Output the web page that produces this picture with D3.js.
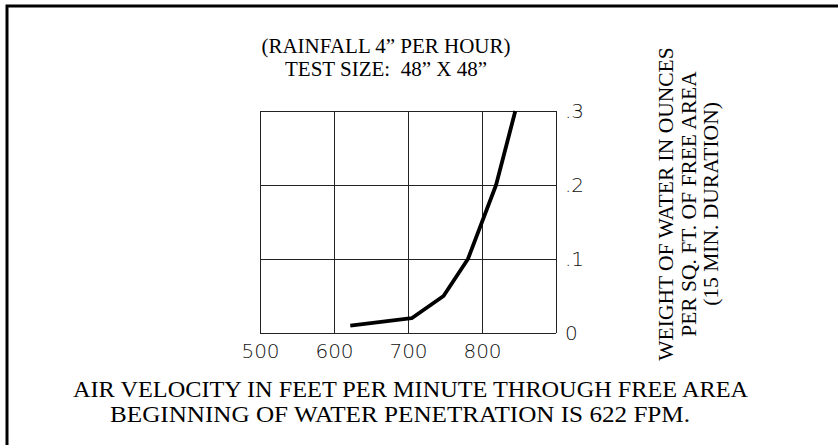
<!DOCTYPE html>
<html>
<head>
<meta charset="utf-8">
<script src="https://cdn.jsdelivr.net/npm/d3@7"></script>
<style>
  html, body { margin: 0; padding: 0; background: #fff; }
  svg { display: block; }
</style>
</head>
<body>
<svg id="chart" width="838" height="445"></svg>
<script>
// ---- data ----
const velocity = [622, 705, 748, 781, 819, 845];           // FPM
const weight   = [0.01, 0.02, 0.05, 0.10, 0.20, 0.30];     // oz per sq ft
const xTicks = [500, 600, 700, 800];
const xGrid  = [500, 600, 700, 800, 900];
const yTicks = [0, 0.1, 0.2, 0.3];
const yTickLabels = ["0", ".1", ".2", ".3"];
const titleLines = ["(RAINFALL 4\u201D PER HOUR)", "TEST SIZE:\u00A0\u00A048\u201D X 48\u201D"];
const yTitleLines = ["WEIGHT OF WATER IN OUNCES", "PER SQ. FT. OF FREE AREA", "(15 MIN. DURATION)"];
const xTitleLines = ["AIR VELOCITY IN FEET PER MINUTE THROUGH FREE AREA", "BEGINNING OF WATER PENETRATION IS 622 FPM."];

const svg = d3.select("#chart");
const plot = { left: 260, top: 111, width: 296, height: 222 };

// outer frame (only top and left edges visible)
svg.append("rect")
  .attr("x", 7).attr("y", 6).attr("width", 900).attr("height", 600)
  .attr("fill", "none").attr("stroke", "#000").attr("stroke-width", 3);

const x = d3.scaleLinear().domain([500, 900]).range([plot.left, plot.left + plot.width]);
const y = d3.scaleLinear().domain([0, 0.3]).range([plot.top + plot.height, plot.top]);

// grid
const g = svg.append("g");
g.selectAll("line.v").data(xGrid).join("line")
  .attr("x1", d => x(d)).attr("x2", d => x(d))
  .attr("y1", y(0)).attr("y2", y(0.3))
  .attr("stroke", "#222").attr("stroke-width", 1).attr("shape-rendering", "crispEdges");
g.selectAll("line.h").data(yTicks).join("line")
  .attr("x1", x(500)).attr("x2", x(900))
  .attr("y1", d => y(d)).attr("y2", d => y(d))
  .attr("stroke", "#222").attr("stroke-width", 1).attr("shape-rendering", "crispEdges");

// x tick labels via axis
const xAxis = d3.axisBottom(x).tickValues(xTicks).tickSize(0).tickPadding(10).tickFormat(d3.format("d"));
const xa = svg.append("g").attr("transform", `translate(0,${y(0)})`).call(xAxis);
xa.select(".domain").remove();
xa.selectAll("text")
  .attr("font-family", "'DejaVu Sans', sans-serif").attr("font-weight", 200)
  .attr("font-size", 20).attr("fill", "#111").attr("dy", "0.71em")
  .attr("transform", "translate(0,1)");

// y tick labels via axis on the right
const yAxis = d3.axisRight(y).tickValues(yTicks).tickSize(0).tickPadding(9)
  .tickFormat((d, i) => yTickLabels[i]);
const ya = svg.append("g").attr("transform", `translate(${x(900)},0)`).call(yAxis);
ya.select(".domain").remove();
ya.selectAll("text")
  .attr("font-family", "'DejaVu Sans', sans-serif").attr("font-weight", 200)
  .attr("font-size", 20).attr("fill", "#111");

// curve
const line = d3.line().x((d, i) => x(velocity[i])).y((d, i) => y(weight[i]));
svg.append("path").datum(velocity)
  .attr("d", line).attr("fill", "none").attr("stroke", "#000")
  .attr("stroke-width", 3.8).attr("stroke-linejoin", "round");

const serif = "'Liberation Serif', 'Times New Roman', serif";

// title
svg.append("g").selectAll("text").data(titleLines).join("text")
  .attr("x", 386).attr("y", (d, i) => 53 + i * 23)
  .attr("text-anchor", "middle").attr("font-family", serif).attr("font-size", 21)
  .attr("fill", "#000").text(d => d);

// rotated y title
svg.append("g").selectAll("text").data(yTitleLines).join("text")
  .attr("transform", (d, i) => `translate(${673 + i * 22.5},204) rotate(-90)`)
  .attr("text-anchor", "middle").attr("font-family", serif).attr("font-size", 21.5)
  .attr("fill", "#000").text(d => d);

// x title
const xTitleLen = [675, 580];
svg.append("g").selectAll("text").data(xTitleLines).join("text")
  .attr("x", (d, i) => i === 0 ? 410.5 : 400).attr("y", (d, i) => 397 + i * 25)
  .attr("text-anchor", "middle").attr("font-family", serif).attr("font-size", 22.5)
  .attr("textLength", (d, i) => xTitleLen[i]).attr("lengthAdjust", "spacingAndGlyphs")
  .attr("fill", "#000").text(d => d);
</script>
</body>
</html>
